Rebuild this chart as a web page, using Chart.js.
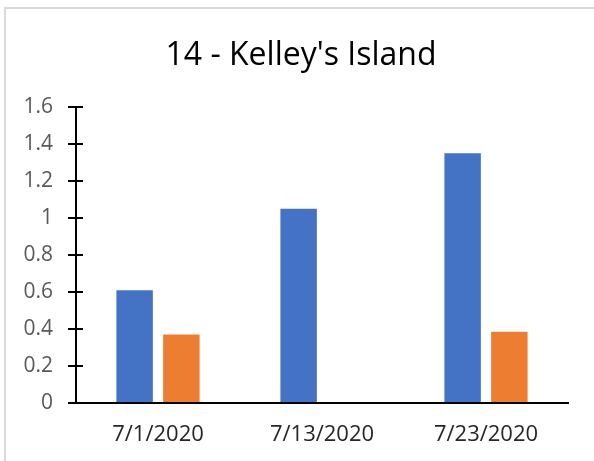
<!DOCTYPE html>
<html>
<head>
<meta charset="utf-8">
<script src="https://cdn.jsdelivr.net/npm/chart.js@4.4.1/dist/chart.umd.min.js"></script>
<style>
  html, body { margin: 0; padding: 0; background: #fff; overflow: hidden; }
  #frame { position: absolute; left: 4px; top: 7px; width: 700px; height: 600px; border: 2px solid #d9d9d9; }
  #grafico { position: absolute; left: 0; top: 0; }
</style>
</head>
<body>
<div id="frame"></div>
<canvas id="grafico" width="594" height="461"></canvas>
<script>
const titulo = "14 - Kelley's Island";
const datas = ['7/1/2020', '7/13/2020', '7/23/2020'];
const serieAzul = [0.61, 1.05, 1.35];
const serieLaranja = [0.37, null, 0.385];
const eixoY = { min: 0, max: 1.6, passo: 0.2 };

// titulo desenhado a mao para ficar centrado no quadro, nao na area do grafico
const tituloQuadro = {
  id: 'tituloQuadro',
  afterDraw(chart) {
    const ctx = chart.ctx;
    ctx.save();
    ctx.fillStyle = '#000';
    ctx.font = '32px "Open Sans"';
    ctx.textAlign = 'center';
    ctx.textBaseline = 'alphabetic';
    ctx.fillText(titulo, 301, 65);
    ctx.restore();
  }
};

// marca curta do lado de dentro do eixo Y (o Chart.js so desenha a parte de fora)
const marcasInternas = {
  id: 'marcasInternas',
  afterDraw(chart) {
    const y = chart.scales.y;
    const ctx = chart.ctx;
    const x0 = chart.chartArea.left;
    ctx.save();
    ctx.strokeStyle = '#000';
    ctx.lineWidth = 2;
    y.ticks.forEach(t => {
      const py = Math.round(y.getPixelForValue(t.value));
      ctx.beginPath();
      ctx.moveTo(x0, py);
      ctx.lineTo(x0 + 7, py);
      ctx.stroke();
    });
    ctx.restore();
  }
};

const ctx = document.getElementById('grafico').getContext('2d');
new Chart(ctx, {
  type: 'bar',
  data: {
    labels: datas,
    datasets: [
      { label: 'A', data: serieAzul, backgroundColor: '#4472c4' },
      { label: 'B', data: serieLaranja, backgroundColor: '#ed7d31' }
    ]
  },
  options: {
    responsive: false,
    animation: false,
    layout: { padding: { left: 6, right: 26, top: 107, bottom: 0 } },
    datasets: { bar: { categoryPercentage: 0.57, barPercentage: 0.78 } },
    plugins: {
      legend: { display: false },
      tooltip: { enabled: false },
      title: { display: false }
    },
    scales: {
      x: {
        grid: { display: false, drawTicks: false },
        border: { color: '#000', width: 2 },
        ticks: { color: '#262626', font: { family: 'Open Sans', size: 22 }, padding: 19 },
        afterFit: s => { s.height = 58; }
      },
      y: {
        min: eixoY.min,
        max: eixoY.max,
        grid: { drawOnChartArea: false, drawTicks: true, tickLength: 8, color: '#000', lineWidth: 2 },
        border: { color: '#000', width: 2 },
        ticks: {
          stepSize: eixoY.passo,
          color: '#595959',
          padding: 15,
          font: { family: 'Open Sans', size: 21 },
          callback: v => Number(v.toFixed(1)).toString()
        },
        afterFit: s => { s.width = 70; }
      }
    }
  },
  plugins: [marcasInternas, tituloQuadro]
});
</script>
</body>
</html>
